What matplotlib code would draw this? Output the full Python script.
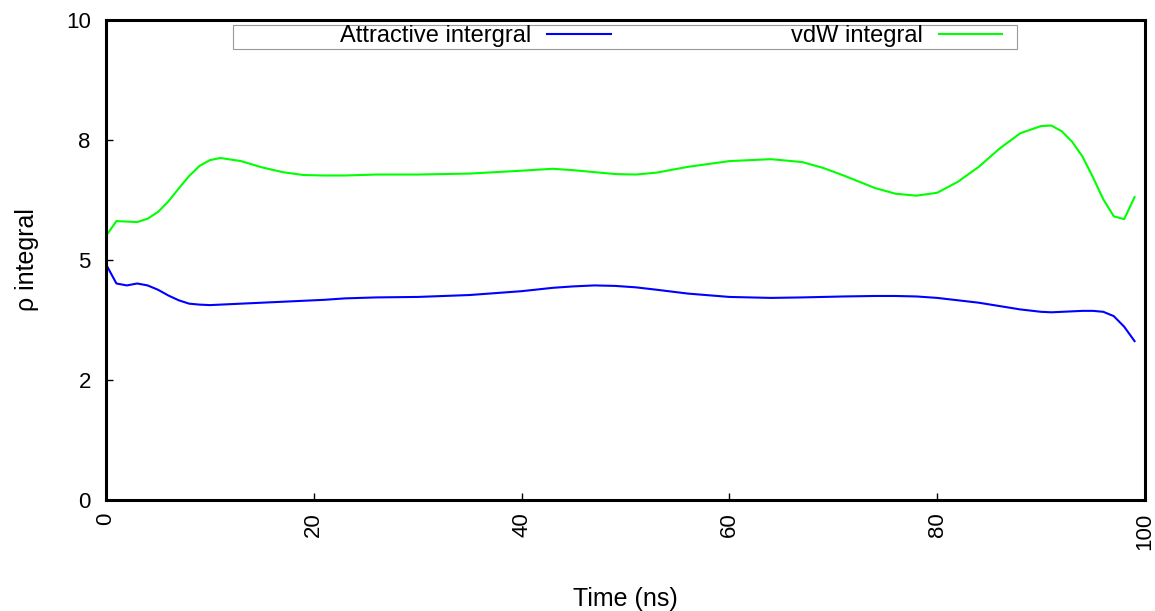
#!/usr/bin/env python3
import numpy as np
from matplotlib import pyplot as plt
from matplotlib.patches import Rectangle

# time (ns) and the two integrals
t = [0,1,2,3,4,5,6,7,8,9,10,11,13,15,17,19,21,23,26,30,35,40,43,45,47,49,51,53,56,60,
     64,67,69,71,74,76,78,80,82,84,86,88,90,91,92,93,94,95,96,97,98,99]
attr = [4.91,4.51,4.47,4.51,4.47,4.38,4.26,4.16,4.09,4.07,4.06,4.07,4.09,4.11,4.13,4.15,4.17,4.20,4.22,4.23,
        4.27,4.35,4.42,4.45,4.47,4.46,4.43,4.38,4.30,4.23,4.21,4.22,4.23,4.24,4.25,4.25,4.24,4.21,4.16,4.11,
        4.04,3.97,3.92,3.91,3.92,3.93,3.94,3.94,3.92,3.83,3.61,3.31]
vdw = [5.50,5.81,5.80,5.79,5.86,6.00,6.22,6.49,6.75,6.96,7.08,7.125,7.06,6.93,6.83,6.77,6.76,6.76,6.78,6.78,
       6.80,6.86,6.90,6.87,6.83,6.79,6.78,6.82,6.94,7.06,7.10,7.04,6.92,6.76,6.50,6.38,6.34,6.40,6.63,6.94,
       7.32,7.64,7.79,7.80,7.68,7.46,7.15,6.72,6.26,5.91,5.85,6.31]

yticks = [0, 2.5, 5, 7.5, 10]
ylabels = ['0', '2', '5', '8', '10']
xticks = [0, 20, 40, 60, 80, 100]

plt.rcParams['font.family'] = ['Liberation Sans', 'DejaVu Sans']

f = plt.figure(figsize=(11.55, 6.11), dpi=100)
ax = f.add_axes([0.0918, 0.1817, 0.8995, 0.7856])

l1, = ax.plot(t, attr, color='#0000ff', lw=1.5)
l2, = ax.plot(t, vdw, color='#00ff00', lw=1.5)

ax.set_xlim(0, 100)
ax.set_ylim(0, 10)
ax.set_xticks(xticks)
ax.set_xticklabels([str(v) for v in xticks], rotation=90, fontsize=16)
ax.set_yticks(yticks)
ax.set_yticklabels(ylabels, fontsize=16)
ax.tick_params(direction='in', length=5, width=1)
ax.tick_params(axis='x', pad=9)
ax.tick_params(axis='y', pad=11)
for s in ax.spines.values():
    s.set_linewidth(2.2)

ax.set_xlabel('Time (ns)', fontsize=18, labelpad=27)
ax.set_ylabel('\u03c1 integral', fontsize=18, labelpad=19)

# gnuplot-like key: framed box, text right-aligned against the sample line
ax.add_patch(Rectangle((0.122, 0.939), 0.755, 0.051, transform=ax.transAxes,
                       fill=True, facecolor='white', edgecolor='#999999', lw=0.8, zorder=3))
k1 = ax.legend([l1], ['Attractive intergral'], loc='center right', bbox_to_anchor=(0.4858, 0.966),
               frameon=False, markerfirst=False, fontsize=17, handlelength=2.7,
               handletextpad=0.68, borderpad=0, borderaxespad=0)
ax.add_artist(k1)
k2 = ax.legend([l2], ['vdW integral'], loc='center right', bbox_to_anchor=(0.8628, 0.966),
               frameon=False, markerfirst=False, fontsize=17, handlelength=2.7,
               handletextpad=0.68, borderpad=0, borderaxespad=0)
k1.set_zorder(4)
k2.set_zorder(4)

f.savefig('out.png', dpi=100)
